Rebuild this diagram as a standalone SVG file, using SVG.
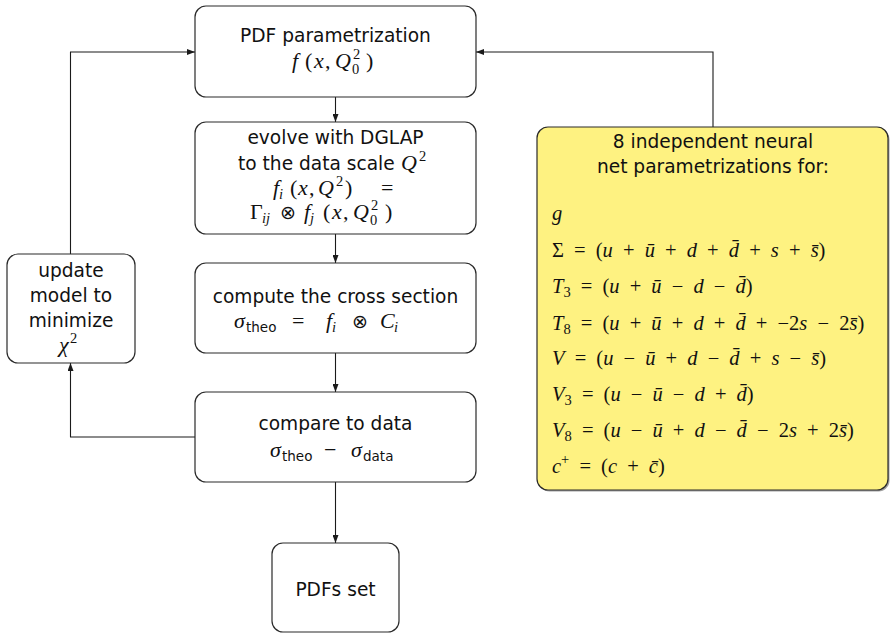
<svg xmlns="http://www.w3.org/2000/svg" width="890" height="633" viewBox="0 0 890 633">
  <defs>
    <marker id="arr" viewBox="0 0 8 6" refX="8" refY="3" markerWidth="8" markerHeight="6" markerUnits="userSpaceOnUse" orient="auto">
      <path d="M0,0 L8,3 L0,6 Z" fill="#1a1a1a"/>
    </marker>
  </defs>
  <style>
    .box { fill: #ffffff; stroke: #2a2a2a; stroke-width: 1.2; }
    .note { fill: #fef281; stroke: #2a2a2a; stroke-width: 1.2; }
    .shadow { fill: #555555; opacity: 0.55; }
    .t { font-family: "DejaVu Sans", "Liberation Sans", sans-serif; font-size: 18.6px; fill: #111111; text-anchor: middle; }
    .ts { font-family: "DejaVu Sans", "Liberation Sans", sans-serif; font-size: 18.6px; fill: #111111; }
    .m { font-family: "Liberation Serif", "DejaVu Serif", serif; font-size: 22px; fill: #111111; }
    .r { font-family: "Liberation Serif", "DejaVu Serif", serif; font-size: 20.5px; fill: #111111; word-spacing: 5px; }
    .v { font-style: italic; }
    .s { font-size: 14.5px; }
    .ss { font-family: "DejaVu Sans", sans-serif; font-size: 13.5px; }
    .op { font-family: "DejaVu Sans", sans-serif; font-size: 19px; }
    .wire { fill: none; stroke: #1a1a1a; stroke-width: 1.1; }
  </style>

  <!-- connectors -->
  <g id="connectors">
    <path class="wire" d="M335.5,97 V122" marker-end="url(#arr)"/>
    <path class="wire" d="M335.5,234 V263" marker-end="url(#arr)"/>
    <path class="wire" d="M335.5,353 V392" marker-end="url(#arr)"/>
    <path class="wire" d="M335.5,482 V543" marker-end="url(#arr)"/>
    <path class="wire" d="M195,437 H70.5 V363" marker-end="url(#arr)"/>
    <path class="wire" d="M70.5,254 V52 H195" marker-end="url(#arr)"/>
    <path class="wire" d="M713,127 V52 H476" marker-end="url(#arr)"/>
  </g>

  <!-- PDF parametrization -->
  <g id="pdf-param">
    <rect class="box" x="195" y="6" width="281" height="91" rx="11"/>
    <text class="t" x="335.5" y="42">PDF parametrization</text>
    <text class="m" y="68"><tspan class="v" x="292">f</tspan><tspan x="305">(</tspan><tspan class="v" x="314">x</tspan><tspan x="325">,</tspan><tspan class="v" x="335">Q</tspan><tspan class="s" x="353" dy="-9">2</tspan><tspan class="s" x="352" dy="15">0</tspan><tspan x="366" dy="-6">)</tspan></text>
  </g>

  <!-- DGLAP evolution -->
  <g id="evolve">
    <rect class="box" x="195" y="122" width="281" height="112" rx="11"/>
    <text class="t" x="335.5" y="144">evolve with DGLAP</text>
    <text class="ts" x="238" y="170">to the data scale <tspan class="m v" x="401">Q</tspan><tspan class="m s" x="419" dy="-9">2</tspan></text>
    <text class="m" y="195"><tspan class="v" x="273">f</tspan><tspan class="s v" x="279" dy="4">i</tspan><tspan x="290" dy="-4">(</tspan><tspan class="v" x="298">x</tspan><tspan x="309">,</tspan><tspan class="v" x="318">Q</tspan><tspan class="s" x="336" dy="-9">2</tspan><tspan x="345" dy="9">)</tspan><tspan x="381">=</tspan></text>
    <text class="m" y="219"><tspan x="250">Γ</tspan><tspan class="s v" x="262" dy="4">ij</tspan><tspan class="op" x="280" dy="-4">⊗</tspan><tspan class="v" x="304">f</tspan><tspan class="s v" x="310" dy="4">j</tspan><tspan x="323" dy="-4">(</tspan><tspan class="v" x="332">x</tspan><tspan x="343">,</tspan><tspan class="v" x="353">Q</tspan><tspan class="s" x="371" dy="-9">2</tspan><tspan class="s" x="370" dy="15">0</tspan><tspan x="385" dy="-6">)</tspan></text>
  </g>

  <!-- cross section -->
  <g id="cross-section">
    <rect class="box" x="195" y="263" width="281" height="90" rx="11"/>
    <text class="t" x="335.5" y="303">compute the cross section</text>
    <text class="m" y="328"><tspan class="v" x="234">σ</tspan><tspan class="ss" x="246" dy="4">theo</tspan><tspan x="292" dy="-4">=</tspan><tspan class="v" x="326">f</tspan><tspan class="s v" x="332" dy="4">i</tspan><tspan class="op" x="352" dy="-4">⊗</tspan><tspan class="v" x="380">C</tspan><tspan class="s v" x="394" dy="4">i</tspan></text>
  </g>

  <!-- comparison -->
  <g id="compare">
    <rect class="box" x="195" y="392" width="281" height="90" rx="11"/>
    <text class="t" x="335.5" y="430">compare to data</text>
    <text class="m" y="457"><tspan class="v" x="270">σ</tspan><tspan class="ss" x="282" dy="4">theo</tspan><tspan x="324" dy="-4">−</tspan><tspan class="v" x="351">σ</tspan><tspan class="ss" x="363" dy="4">data</tspan></text>
  </g>

  <!-- result -->
  <g id="pdfs-set">
    <rect class="box" x="272" y="543" width="127" height="89" rx="11"/>
    <text class="t" x="335.5" y="596">PDFs set</text>
  </g>

  <!-- minimisation step -->
  <g id="update">
    <rect class="box" x="7" y="254" width="128" height="109" rx="11"/>
    <text class="t" x="71" y="277">update</text>
    <text class="t" x="71" y="302">model to</text>
    <text class="t" x="71" y="327">minimize</text>
    <text class="m" y="352"><tspan class="v" x="59">χ</tspan><tspan class="s" x="70" dy="-9">2</tspan></text>
  </g>

  <!-- neural net parametrizations -->
  <g id="nn-basis">
    <rect class="shadow" x="538.5" y="128.5" width="351" height="363" rx="11"/>
    <rect class="note" x="537" y="127" width="351" height="363" rx="11"/>
    <text class="t" x="713" y="148">8 independent neural</text>
    <text class="t" x="713" y="173">net parametrizations for:</text>
    <text class="r v" x="552" y="220">g</text>
    <text class="r" x="552" y="257">Σ = (<tspan class="v">u</tspan> + <tspan class="v">ū</tspan> + <tspan class="v">d</tspan> + <tspan class="v">d&#x304;</tspan> + <tspan class="v">s</tspan> + <tspan class="v">s&#x304;</tspan>)</text>
    <text class="r" x="552" y="293"><tspan class="v">T</tspan><tspan class="s" dy="4">3</tspan><tspan dy="-4"> = (</tspan><tspan class="v">u</tspan> + <tspan class="v">ū</tspan> − <tspan class="v">d</tspan> − <tspan class="v">d&#x304;</tspan>)</text>
    <text class="r" x="552" y="330"><tspan class="v">T</tspan><tspan class="s" dy="4">8</tspan><tspan dy="-4"> = (</tspan><tspan class="v">u</tspan> + <tspan class="v">ū</tspan> + <tspan class="v">d</tspan> + <tspan class="v">d&#x304;</tspan> + −2<tspan class="v">s</tspan> − 2<tspan class="v">s&#x304;</tspan>)</text>
    <text class="r" x="552" y="365"><tspan class="v">V</tspan> = (<tspan class="v">u</tspan> − <tspan class="v">ū</tspan> + <tspan class="v">d</tspan> − <tspan class="v">d&#x304;</tspan> + <tspan class="v">s</tspan> − <tspan class="v">s&#x304;</tspan>)</text>
    <text class="r" x="552" y="401"><tspan class="v">V</tspan><tspan class="s" dy="4">3</tspan><tspan dy="-4"> = (</tspan><tspan class="v">u</tspan> − <tspan class="v">ū</tspan> − <tspan class="v">d</tspan> + <tspan class="v">d&#x304;</tspan>)</text>
    <text class="r" x="552" y="437"><tspan class="v">V</tspan><tspan class="s" dy="4">8</tspan><tspan dy="-4"> = (</tspan><tspan class="v">u</tspan> − <tspan class="v">ū</tspan> + <tspan class="v">d</tspan> − <tspan class="v">d&#x304;</tspan> − 2<tspan class="v">s</tspan> + 2<tspan class="v">s&#x304;</tspan>)</text>
    <text class="r" x="552" y="473"><tspan class="v">c</tspan><tspan class="s" dy="-9">+</tspan><tspan dy="9"> = (</tspan><tspan class="v">c</tspan> + <tspan class="v">c&#x304;</tspan>)</text>
  </g>
</svg>
